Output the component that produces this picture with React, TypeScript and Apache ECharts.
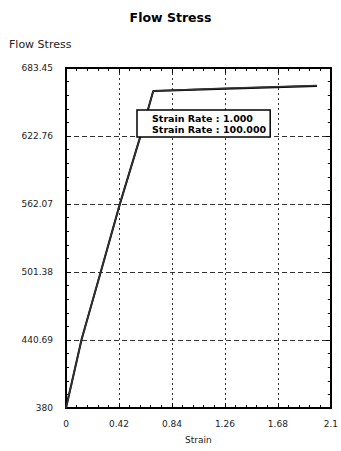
import React, { useEffect, useRef } from "react";
import * as echarts from "echarts";

const titleText = "Flow Stress";
const yAxisTitle = "Flow Stress";
const xAxisTitle = "Strain";
const yBase = 380;
const yTop = 683.45;
const yStep = 60.69;
const xMax = 2.1;
const xStep = 0.42;
const yTickLabels = ["380", "440.69", "501.38", "562.07", "622.76", "683.45"];
const xTickLabels = ["0", "0.42", "0.84", "1.26", "1.68", "2.1"];
const seriesNames = ["Strain Rate : 1.000", "Strain Rate : 100.000"];
const strainA = [0, 0.124, 0.272, 0.428, 0.591, 0.692, 1.2, 1.99];
const stressA = [380, 441.4, 500.1, 562.4, 622.9, 663.0, 664.8, 667.4];
const strainB = [0, 0.124, 0.272, 0.428, 0.591, 0.692, 1.2, 1.99];
const stressB = [380, 441.4, 500.1, 562.4, 622.9, 663.0, 665.2, 667.9];

const FONT = "DejaVu Sans";

export default function App() {
  const ref = useRef<HTMLDivElement>(null);
  useEffect(() => {
    if (!ref.current) return;
    const chart = echarts.init(ref.current, undefined, { renderer: "svg" });
    const mk = (xs: number[], ys: number[]) => xs.map((x, i) => [x, ys[i] - yBase]);
    const fmtX = (v: number) => {
      const i = Math.round(v / xStep);
      return xTickLabels[i] ?? "";
    };
    const fmtY = (v: number) => {
      const i = Math.round(v / yStep);
      return yTickLabels[i] ?? "";
    };
    const commonAxis = {
      axisLine: { show: true, onZero: false, lineStyle: { color: "#000", width: 2 } },
      axisTick: { show: true, inside: true, length: 5, lineStyle: { color: "#000", width: 1 } },
      minorTick: { show: true, splitNumber: 5, length: 3, lineStyle: { color: "#000", width: 1 } },
    };
    chart.setOption({
      animation: false,
      backgroundColor: "#fff",
      title: {
        text: titleText,
        left: "center",
        top: 6,
        textStyle: { fontFamily: FONT, fontSize: 12.5, fontWeight: "bold", color: "#000" },
      },
      graphic: [
        {
          type: "text",
          left: 9,
          top: 39,
          style: { text: yAxisTitle, font: `11px '${FONT}'`, fill: "#222" },
        },
      ],
      legend: {
        orient: "vertical",
        left: 137,
        top: 110,
        padding: [3, 4, 3, 2],
        itemGap: 1,
        itemWidth: 10,
        itemHeight: 2,
        borderColor: "#000",
        borderWidth: 1.5,
        backgroundColor: "#fff",
        itemStyle: { opacity: 0 },
        lineStyle: { opacity: 0 },
        data: seriesNames.map((n) => ({ name: n, icon: "rect" })),
        textStyle: { fontFamily: FONT, fontSize: 9.5, fontWeight: "bold", color: "#000", padding: [0, 0, 0, -2] },
      },
      grid: { left: 66, right: 6, top: 68, bottom: 43, containLabel: false },
      xAxis: [
        {
          type: "value",
          position: "bottom",
          min: 0,
          max: xMax,
          interval: xStep,
          name: xAxisTitle,
          nameLocation: "middle",
          nameGap: 27,
          nameTextStyle: { fontFamily: FONT, fontSize: 9, color: "#222" },
          axisLabel: { formatter: fmtX, fontFamily: FONT, fontSize: 9, color: "#222", margin: 11 },
          splitLine: { show: true, lineStyle: { color: "#333", type: [2, 3], width: 1 } },
          ...commonAxis,
        },
        {
          type: "value",
          position: "top",
          min: 0,
          max: xMax,
          interval: xStep,
          axisLabel: { show: false },
          splitLine: { show: false },
          ...commonAxis,
        },
      ],
      yAxis: [
        {
          type: "value",
          position: "left",
          min: 0,
          max: yTop - yBase,
          interval: yStep,
          axisLabel: { formatter: fmtY, fontFamily: FONT, fontSize: 9, color: "#222", margin: 13 },
          splitLine: { show: true, lineStyle: { color: "#333", type: [5, 3], width: 1 } },
          ...commonAxis,
        },
        {
          type: "value",
          position: "right",
          min: 0,
          max: yTop - yBase,
          interval: yStep,
          axisLabel: { show: false },
          splitLine: { show: false },
          ...commonAxis,
        },
      ],
      series: [
        {
          name: seriesNames[0],
          type: "line",
          data: mk(strainA, stressA),
          showSymbol: false,
          symbol: "none",
          lineStyle: { color: "#000", width: 2 },
          itemStyle: { color: "#000" },
        },
        {
          name: seriesNames[1],
          type: "line",
          data: mk(strainB, stressB),
          showSymbol: false,
          symbol: "none",
          lineStyle: { color: "#333", width: 1.5 },
          itemStyle: { color: "#333" },
        },
      ],
    });
    return () => chart.dispose();
  }, []);
  return <div ref={ref} style={{ width: 341, height: 451, position: "absolute", left: 0, top: 0 }} />;
}
